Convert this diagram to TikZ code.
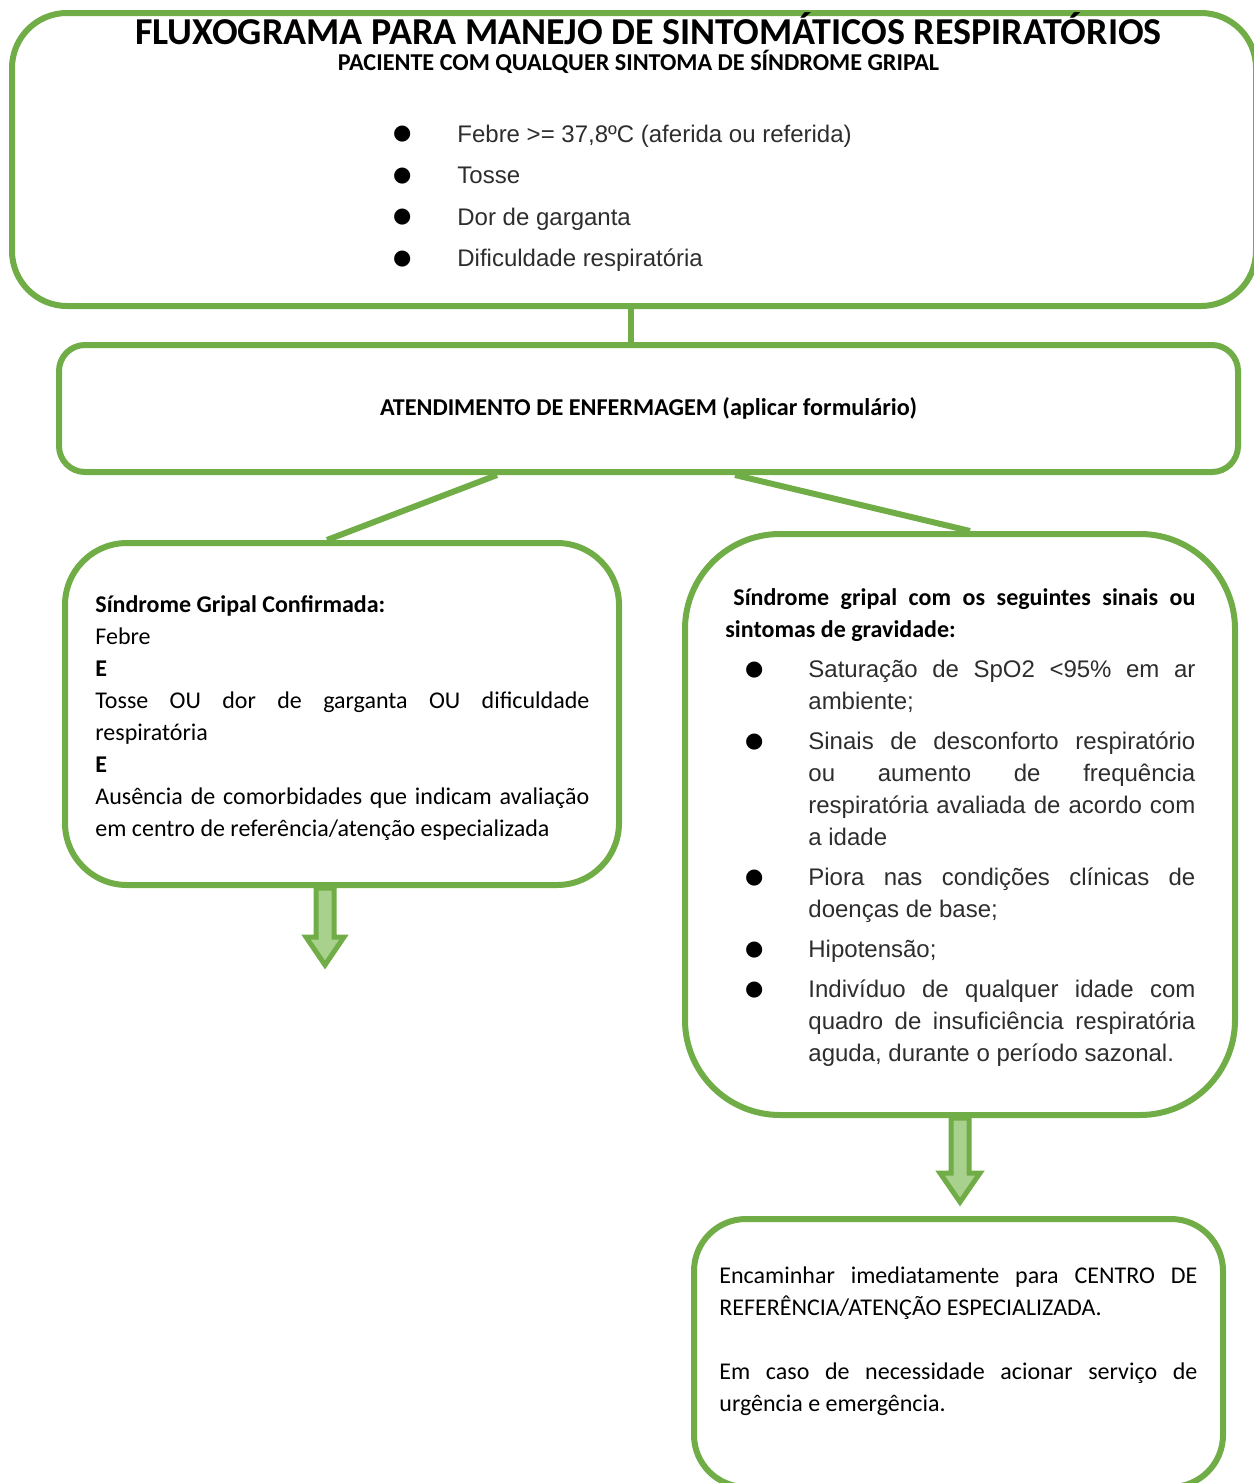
\documentclass[tikz,border=0pt]{standalone}
\usepackage{fontspec}
\setmainfont{Carlito}
\newfontfamily\arialfont{Liberation Sans}
\newfontfamily\dejavu{DejaVu Sans}
\usetikzlibrary{calc}
\definecolor{cus-green}{RGB}{112,173,71}
\definecolor{cus-green1}{RGB}{169,209,142}
\definecolor{cus-gray}{RGB}{45,45,45}
\setlength\parindent{0pt}
\hyphenpenalty=10000
\exhyphenpenalty=10000
\emergencystretch=20pt
\newcommand\blt{\raisebox{1.2pt}{\color{black}\dejavu\fontsize{10.5}{10.5}\selectfont ●}}
\newenvironment{bulletlist}[3]{\begin{list}{\blt}{\setlength\leftmargin{#1}\setlength\labelsep{#2}\setlength\labelwidth{#1}\addtolength\labelwidth{-#2}\setlength\itemsep{#3}\setlength\parsep{0pt}\setlength\topsep{#3}\setlength\partopsep{0pt}}}{\end{list}}

\begin{document}
\begin{tikzpicture}[x=0.5pt,y=-0.5pt,
  gbox/.style={draw=cus-green, line width=3pt, rectangle},
  bigarrow/.style={draw=cus-green, line width=2.5pt, fill=cus-green1, line join=miter},
  txt/.style={inner sep=0pt, anchor=north west, text width=#1, align=justify},
  line/.style={draw=cus-green, line width=3pt}]
\useasboundingbox (0,0) rectangle (1253,1483);

% caixas
\node [gbox, rounded corners=27.5pt, minimum width=622pt, minimum height=146.5pt] (sintomas) at (634,159.5) {};
\node [gbox, rounded corners=13pt, minimum width=589.5pt, minimum height=63.5pt, font=\bfseries\fontsize{12.1}{14}\selectfont] (atend) at (648.5,408.5) {ATENDIMENTO DE ENFERMAGEM (aplicar formulário)};
\node [gbox, rounded corners=31pt, minimum width=277pt, minimum height=171pt] (gripal) at (342,714) {};
\node [gbox, rounded corners=47.5pt, minimum width=275pt, minimum height=290.5pt] (sinais) at (960,824.5) {};
\node [gbox, rounded corners=26pt, minimum width=264.5pt, minimum height=134pt] (encam) at (958.5,1353) {};

% ligacoes
\draw [line] ($(sintomas.south)+(-3,0)$) -- ($(atend.north)+(-17.5,0)$);
\draw [line] ($(atend.south)+(-151.5,0)$) -- ($(gripal.north)+(-15,0)$);
\draw [line] ($(atend.south)+(86.5,0)$) -- ($(sinais.north)+(10,0)$);
\draw [bigarrow] ($(gripal.south)+(-26,0)$) -- ++(0,49) -- ++(-10,0) -- ++(19,28) -- ++(19,-28) -- ++(-10,0) -- ++(0,-49) -- cycle;
\draw [bigarrow] ($(sinais.south)+(-9,0)$) -- ++(0,55) -- ++(-11,0) -- ++(20,29) -- ++(20,-29) -- ++(-11,0) -- ++(0,-55) -- cycle;

% textos
\node [anchor=base, inner sep=0pt, font=\bfseries\fontsize{19}{21}\selectfont] (titulo) at (648.5,44) {FLUXOGRAMA PARA MANEJO DE SINTOMÁTICOS RESPIRATÓRIOS};
\node [anchor=base, inner sep=0pt, font=\bfseries\fontsize{12.1}{14}\selectfont] (paciente) at (638.5,70) {PACIENTE COM QUALQUER SINTOMA DE SÍNDROME GRIPAL};
\node [txt=250pt, text=cus-gray, font=\arialfont\fontsize{12}{20.8}\selectfont] (lista) at (380,100) {\begin{bulletlist}{38.5pt}{23pt}{0pt}
 \item \strut Febre >= 37,8ºC (aferida ou referida)
 \item Tosse
 \item Dor de garganta
 \item Dificuldade respiratória
\end{bulletlist}};
\node [txt=247pt, font=\fontsize{12}{16}\selectfont] (gripaltxt) at (95,589.6) {\strut\textbf{Síndrome Gripal Confirmada:}\par Febre\par \textbf{E}\par Tosse OU dor de garganta OU dificuldade\linebreak respiratória\par \textbf{E}\par Ausência de comorbidades que indicam avaliação\linebreak em centro de referência/atenção especializada};
\node [txt=235pt, font=\fontsize{12}{16}\selectfont] (sinaistxt) at (725,582.6) {\strut\hspace*{4pt}\textbf{Síndrome gripal com os seguintes sinais ou\linebreak sintomas de gravidade:}\par
{\arialfont\fontsize{12}{16}\selectfont\color{cus-gray}
\begin{bulletlist}{41.5pt}{22.5pt}{4pt}
 \item Saturação de SpO2 <95\% em ar\linebreak ambiente;
 \item Sinais de desconforto respiratório\linebreak ou aumento de frequência\linebreak respiratória avaliada de acordo com\linebreak a idade
 \item Piora nas condições clínicas de\linebreak doenças de base;
 \item Hipotensão;
 \item Indivíduo de qualquer idade com\linebreak quadro de insuficiência respiratória\linebreak aguda, durante o período sazonal.
\end{bulletlist}}};
\node [txt=239pt, font=\fontsize{12}{16}\selectfont] (encamtxt) at (719,1260.6) {\strut Encaminhar imediatamente para CENTRO DE\linebreak REFERÊNCIA/ATENÇÃO ESPECIALIZADA.\par\vspace{16pt}Em caso de necessidade acionar serviço de\linebreak urgência e emergência.};
\end{tikzpicture}
\end{document}
